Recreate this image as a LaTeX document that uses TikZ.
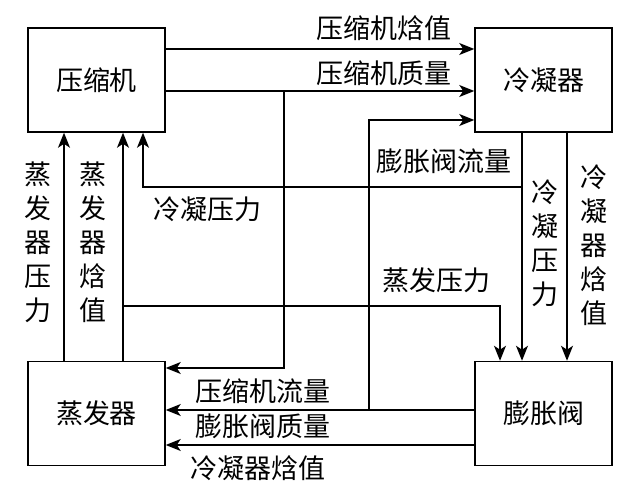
\documentclass[tikz,border=0pt]{standalone}
\usepackage{fontspec}
\newfontfamily\cjk{Noto Sans CJK SC}
\usetikzlibrary{arrows.meta}

\tikzset{
  unit/.style={draw,line width=1.5pt,minimum width=137pt,minimum height=104pt,font=\cjk\fontsize{27}{31}\selectfont},
  flow/.style={line width=1.5pt,-{Stealth[length=15pt,width=12pt,inset=4pt]}},
  wire/.style={line width=1.5pt},
  lbl/.style={inner sep=0pt,font=\cjk\fontsize{27}{31}\selectfont},
  vlbl/.style={inner sep=0pt,align=center,font=\cjk\fontsize{27}{34}\selectfont}
}

\begin{document}
\begin{tikzpicture}[x=1pt,y=-1pt]
   \useasboundingbox (0,0) rectangle (640,494);
   % the four units
   \node[unit] (comp)  at (96.5,80)    {压缩机};
   \node[unit] (cond)  at (543.5,80)   {冷凝器};
   \node[unit] (evap)  at (96.5,413.5) {蒸发器};
   \node[unit] (valve) at (543.5,413.5) {膨胀阀};
   % branch points
   \coordinate (cmq) at (284,91);  % compressor mass -> evaporator
   \coordinate (vmq) at (369,410); % valve mass -> condenser
   \coordinate (cdp) at (522,187); % condensing pressure -> compressor
   \coordinate (evh) at (123,306); % evaporator line -> valve
   % compressor -> condenser
   \draw[flow] ([yshift=31pt]comp.east) -- ([yshift=31pt]cond.west);
   \draw[flow] ([yshift=-11pt]comp.east) -- ([yshift=-11pt]cond.west);
   \draw[flow] (cmq) |- ([yshift=45.5pt]evap.east);
   % valve -> evaporator
   \draw[flow] ([yshift=3.5pt]valve.west) -- ([yshift=3.5pt]evap.east);
   \draw[flow] ([yshift=-31.5pt]valve.west) -- ([yshift=-31.5pt]evap.east);
   \draw[flow] (vmq) |- ([yshift=-40pt]cond.west);
   % condenser -> valve
   \draw[flow] ([xshift=-21.5pt]cond.south) -- ([xshift=-21.5pt]valve.north);
   \draw[flow] ([xshift=23.5pt]cond.south) -- ([xshift=23.5pt]valve.north);
   \draw[flow] (cdp) -| ([xshift=46.5pt]comp.south);
   % evaporator -> compressor
   \draw[flow] ([xshift=-32.5pt]evap.north) -- ([xshift=-32.5pt]comp.south);
   \draw[flow] ([xshift=26.5pt]evap.north) -- ([xshift=26.5pt]comp.south);
   \draw[flow] (evh) -| ([xshift=-43.5pt]valve.north);
   % labels
   \node[lbl] (l1) at (384,28)  {压缩机焓值};
   \node[lbl] (l2) at (384,73)  {压缩机质量};
   \node[lbl] (l3) at (263,391) {压缩机流量};
   \node[lbl] (l4) at (263,426) {膨胀阀质量};
   \node[lbl] (l5) at (258,468) {冷凝器焓值};
   \node[lbl] (l6) at (444,161) {膨胀阀流量};
   \node[lbl] (l7) at (207,209) {冷凝压力};
   \node[lbl] (l8) at (436,280) {蒸发压力};
   \node[vlbl] (v1) at (545,243) {冷\\凝\\压\\力};
   \node[vlbl] (v2) at (594,245) {冷\\凝\\器\\焓\\值};
   \node[vlbl] (v3) at (38,242)  {蒸\\发\\器\\压\\力};
   \node[vlbl] (v4) at (93,242)  {蒸\\发\\器\\焓\\值};
\end{tikzpicture}
\end{document}
